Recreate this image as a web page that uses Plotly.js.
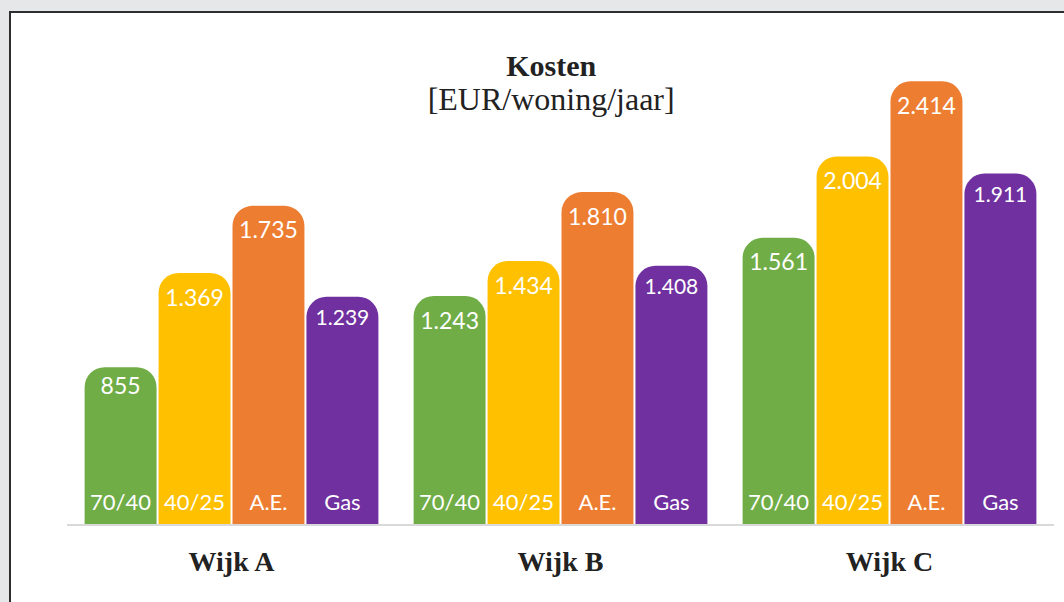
<!DOCTYPE html>
<html>
<head>
<meta charset="utf-8">
<script src="https://cdn.plot.ly/plotly-3.0.1.min.js"></script>
<style>
  html, body { margin: 0; padding: 0; width: 1064px; height: 602px; overflow: hidden; background: #e6e7e9; }
  #frame { position: absolute; left: 9px; top: 11px; width: 1100px; height: 650px; background: #ffffff;
           border-left: 2px solid #2e2e2e; border-top: 2px solid #2e2e2e; }
  #chart { position: absolute; left: 0; top: 0; width: 1064px; height: 602px; }
</style>
</head>
<body>
<div id="frame"></div>
<div id="chart"></div>
<script>
// ---- data ----
const groups = ['Wijk A', 'Wijk B', 'Wijk C'];
const seriesNames = ['70/40', '40/25', 'A.E.', 'Gas'];
const values7040 = [855, 1243, 1561];
const values4025 = [1369, 1434, 2004];
const valuesAE = [1735, 1810, 2414];
const valuesGas = [1239, 1408, 1911];
const seriesColors = ['#70ad47', '#ffc000', '#ed7d31', '#7030a0'];

// ---- styles ----
const valueFontSizes = [23, 23, 23, 21];
const nameFontSizes = [22, 22, 22, 22];
const bottomLabelLift = 32; // lifts the bottom series label a little above the baseline
const seriesValues = [values7040, values4025, valuesAE, valuesGas];
const labelFont = 'Lato, Carlito, "Noto Sans", sans-serif';

const traces = [];
seriesValues.forEach((vals, i) => {
  traces.push({
    type: 'bar',
    x: groups,
    y: vals,
    name: seriesNames[i],
    offsetgroup: String(i),
    marker: { color: seriesColors[i], cornerradius: 20, line: { width: 0 } },
    texttemplate: '%{y:,}',
    textposition: 'inside',
    insidetextanchor: 'end',
    textangle: 0,
    textfont: { family: labelFont, size: valueFontSizes[i], color: '#ffffff' },
    hoverinfo: 'skip',
    showlegend: false
  });
});
seriesValues.forEach((vals, i) => {
  traces.push({
    type: 'bar',
    x: groups,
    y: vals.map(v => v - bottomLabelLift),
    base: bottomLabelLift,
    name: seriesNames[i] + ' label',
    offsetgroup: String(i),
    marker: { color: 'rgba(0,0,0,0)', line: { width: 0 } },
    text: groups.map(() => seriesNames[i]),
    texttemplate: '%{text}',
    textposition: 'inside',
    insidetextanchor: 'start',
    textangle: 0,
    textfont: { family: labelFont, size: nameFontSizes[i], color: '#ffffff' },
    hoverinfo: 'skip',
    showlegend: false
  });
});

const layout = {
  width: 1064,
  height: 602,
  paper_bgcolor: 'rgba(0,0,0,0)',
  plot_bgcolor: 'rgba(0,0,0,0)',
  separators: ',.',
  barmode: 'group',
  bargap: 0.101,
  bargroupgap: 0.027,
  margin: { l: 67, r: 10, t: 61, b: 78 },
  title: {
    text: '<span style="font-size:30px"><b>Kosten</b></span><br><span style="font-size:32px">[EUR/woning/jaar]</span>',
    font: { family: '"Liberation Serif", "Times New Roman", serif', size: 26, color: '#222222' },
    x: 0.518,
    xanchor: 'center',
    y: 1 - 76 / 602,
    yanchor: 'top'
  },
  xaxis: {
    type: 'category',
    showgrid: false,
    zeroline: false,
    showline: true,
    linecolor: '#d9d9d9',
    linewidth: 2,
    ticks: '',
    ticklabelstandoff: 11,
    tickfont: { family: '"Liberation Serif", "Times New Roman", serif', size: 28, color: '#222222', weight: 'bold' }
  },
  yaxis: {
    visible: false,
    range: [0, 2525],
    fixedrange: true
  }
};

Plotly.newPlot('chart', traces, layout, { displayModeBar: false, staticPlot: true });
</script>
</body>
</html>
